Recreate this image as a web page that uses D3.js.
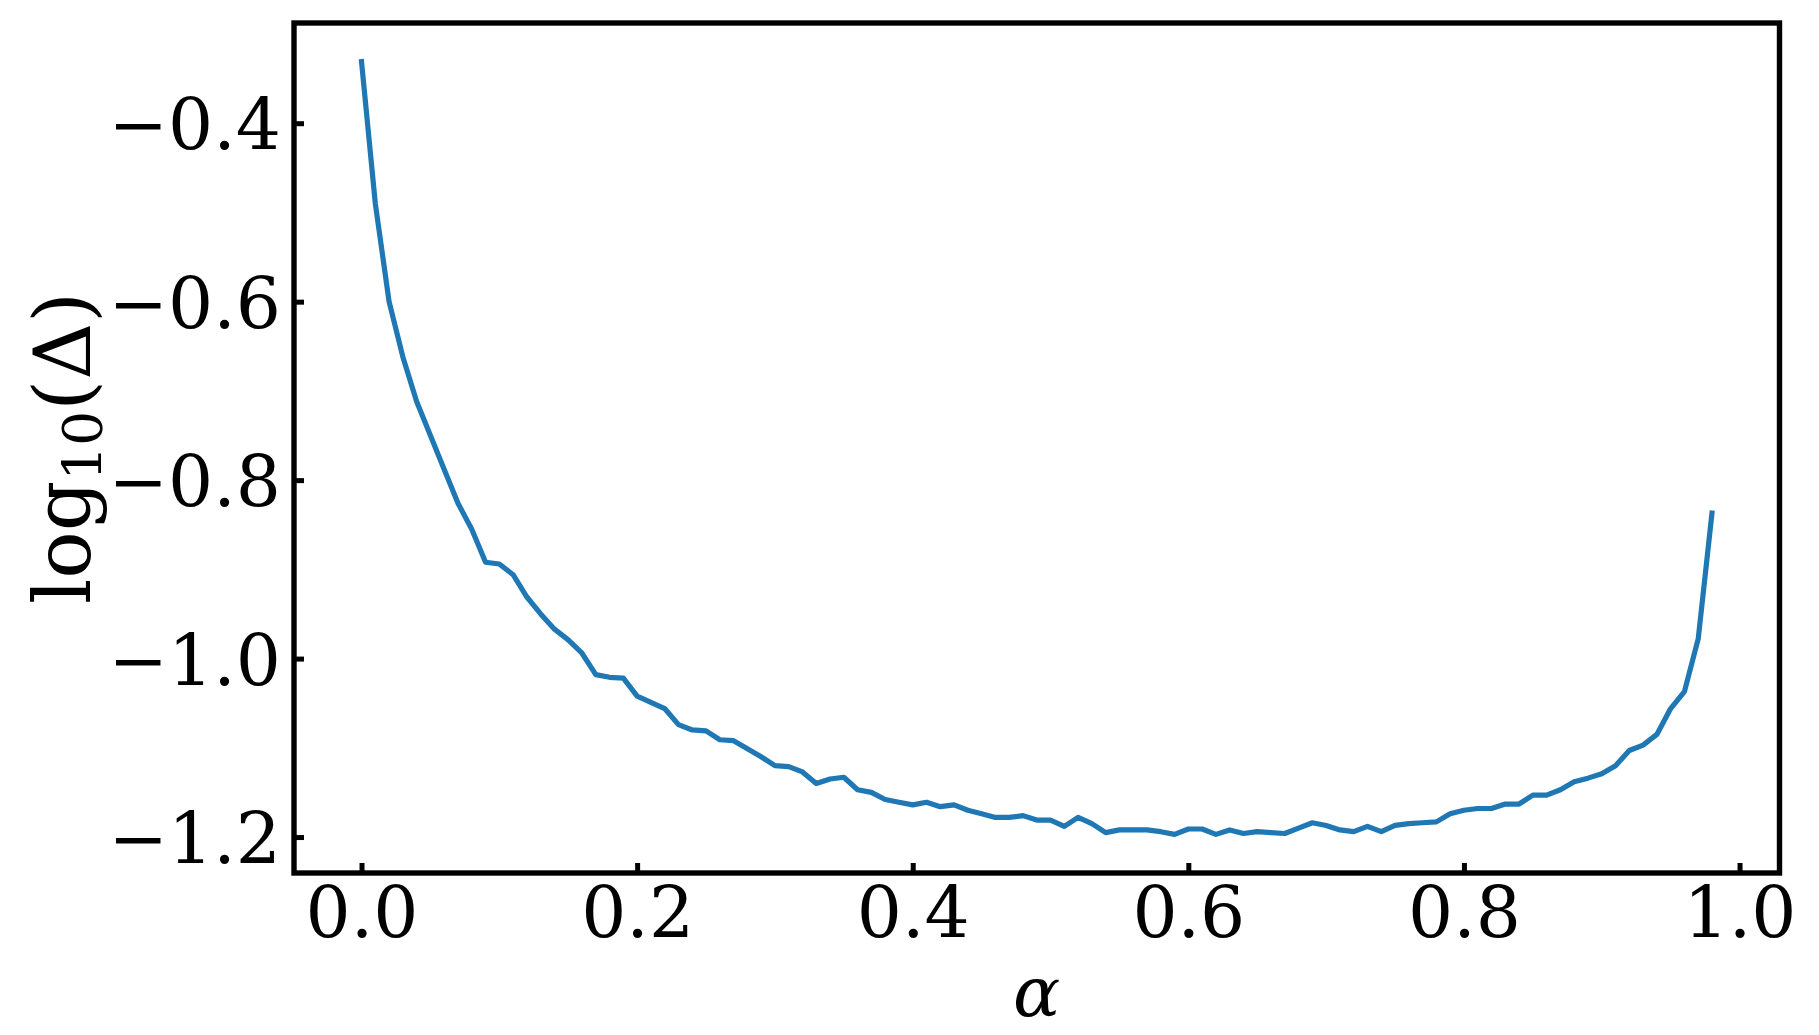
<!DOCTYPE html>
<html>
<head>
<meta charset="utf-8">
<script src="https://cdn.jsdelivr.net/npm/d3@7"></script>
<style>
  html, body { margin: 0; padding: 0; background: #fff; }
  svg { display: block; }
  text { font-family: "DejaVu Serif", serif; fill: #000; }
</style>
</head>
<body>
<div id="viz"></div>
<script>

//
// data
//

const alphas = d3.range(0, 99).map(i => +(i / 100).toFixed(2))

const logDelta = [
  -0.331, -0.490, -0.600, -0.662, -0.712, -0.750, -0.788, -0.826, -0.855, -0.892,
  -0.894, -0.906, -0.931, -0.950, -0.967, -0.979, -0.994, -1.018, -1.021, -1.022,
  -1.042, -1.049, -1.056, -1.074, -1.080, -1.081, -1.091, -1.092, -1.101, -1.110,
  -1.120, -1.121, -1.127, -1.140, -1.135, -1.133, -1.147, -1.150, -1.158, -1.161,
  -1.164, -1.161, -1.166, -1.164, -1.170, -1.174, -1.178, -1.178, -1.176, -1.181,
  -1.181, -1.188, -1.178, -1.185, -1.195, -1.192, -1.192, -1.192, -1.194, -1.197,
  -1.191, -1.191, -1.197, -1.192, -1.196, -1.194, -1.195, -1.196, -1.190, -1.184,
  -1.187, -1.192, -1.194, -1.188, -1.194, -1.187, -1.185, -1.184, -1.183, -1.174,
  -1.170, -1.168, -1.168, -1.163, -1.163, -1.153, -1.153, -1.147, -1.138, -1.134,
  -1.129, -1.120, -1.103, -1.097, -1.085, -1.056, -1.037, -0.978, -0.837
]

const xTicks = [0, 0.2, 0.4, 0.6, 0.8, 1.0]
const xTickLabels = ['0.0', '0.2', '0.4', '0.6', '0.8', '1.0']
const yTicks = [-0.4, -0.6, -0.8, -1.0, -1.2]
const yTickLabels = ['\u22120.4', '\u22120.6', '\u22120.8', '\u22121.0', '\u22121.2']

//
// layout
//

const width = 1819
const height = 1035
const margin = { left: 294, top: 23, right: 1819 - 1779.5, bottom: 1035 - 873 }
const innerW = width - margin.left - margin.right
const innerH = height - margin.top - margin.bottom
const tickFont = 71
const labelFont = 79

// matplotlib style 5% padding around the data
function padded(ext) {
  let span = ext[1] - ext[0]
  return [ext[0] - span * 0.05, ext[1] + span * 0.05]
}

let x = d3.scaleLinear()
  .domain(padded(d3.extent(alphas)))
  .range([0, innerW])

let y = d3.scaleLinear()
  .domain(padded(d3.extent(logDelta)))
  .range([innerH, 0])

let svg = d3.select('#viz')
  .append('svg')
    .attr('width', width)
    .attr('height', height)

let g = svg.append('g')
  .attr('transform', 'translate(' + [margin.left, margin.top] + ')')

//
// curve
//

let points = alphas.map((a, i) => [a, logDelta[i]])

g.append('path')
  .datum(points)
  .attr('fill', 'none')
  .attr('stroke', '#1f77b4')
  .attr('stroke-width', 5.2)
  .attr('stroke-linejoin', 'round')
  .attr('stroke-linecap', 'square')
  .attr('d', d3.line().x(d => x(d[0])).y(d => y(d[1])))

//
// axes, ticks pointing inwards
//

let xAxis = g.append('g')
  .attr('transform', 'translate(0,' + innerH + ')')
  .call(d3.axisBottom(x)
    .tickValues(xTicks)
    .tickFormat((d, i) => xTickLabels[i])
    .tickSize(-10)
    .tickPadding(14))

let yAxis = g.append('g')
  .call(d3.axisLeft(y)
    .tickValues(yTicks)
    .tickFormat((d, i) => yTickLabels[i])
    .tickSize(-10)
    .tickPadding(13))

for (let ax of [xAxis, yAxis]) {
  ax.select('.domain').remove()
  ax.attr('font-family', null).attr('font-size', null)
  ax.selectAll('.tick line')
    .attr('stroke', '#000')
    .attr('stroke-width', 5)
  ax.selectAll('.tick text')
    .style('font-size', tickFont + 'px')
}
yAxis.selectAll('.tick text').attr('dy', '0.36em')

g.append('rect')
  .attr('x', 0)
  .attr('y', 0)
  .attr('width', innerW)
  .attr('height', innerH)
  .attr('fill', 'none')
  .attr('stroke', '#000')
  .attr('stroke-width', 5.4)

//
// axis labels
//

svg.append('text')
  .attr('x', margin.left + innerW / 2)
  .attr('y', 1016)
  .attr('text-anchor', 'middle')
  .style('font-size', '70px')
  .style('font-style', 'italic')
  .text('\u03b1')

let ylab = svg.append('text')
  .attr('transform', 'translate(90,' + (margin.top + innerH / 2) + ') rotate(-90)')
  .attr('text-anchor', 'middle')
  .style('font-size', labelFont + 'px')

ylab.append('tspan').text('log')
ylab.append('tspan')
  .attr('dy', 12)
  .style('font-size', '55px')
  .text('10')
ylab.append('tspan')
  .attr('dy', -12)
  .text('(\u0394)')

</script>
</body>
</html>
